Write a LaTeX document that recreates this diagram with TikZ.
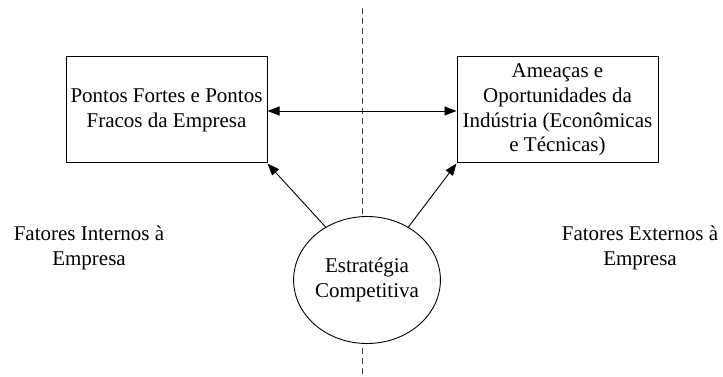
\documentclass[tikz,border=0pt]{standalone}
\usepackage{fontspec}
\setmainfont{Liberation Serif}
\usetikzlibrary{arrows.meta,shapes.geometric}
\begin{document}
\begin{tikzpicture}[x=1pt,y=-1pt,
  txt/.style={font=\fontsize{21}{24.8}\selectfont, align=center, inner sep=0pt},
  boxnode/.style={draw, line width=1pt, minimum width=201pt, minimum height=106pt, txt},
  arr/.style={line width=0.9pt, -{Triangle[length=12pt,width=9pt]}},
  darr/.style={line width=0.9pt, {Triangle[length=12pt,width=9pt]}-{Triangle[length=12pt,width=9pt]}}]
\useasboundingbox (0,0) rectangle (723,377);
\coordinate (dtop) at (362,8);
\coordinate (dbot) at (362,377);
\draw[line width=0.9pt, dash pattern=on 6pt off 4pt, black!75] (dtop) -- (dbot);
\node[boxnode] (int) at (166.5,110) {Pontos Fortes e Pontos\\Fracos da Empresa};
\node[boxnode] (ext) at (557.5,110) {Amea\c{c}as e\\Oportunidades da\\Ind\'ustria (Econ\^omicas\\e T\'ecnicas)};
\node[draw, line width=0.9pt, ellipse, fill=white, minimum width=138pt, minimum height=127pt, txt] (est) at (367,280) {Estrat\'egia\\Competitiva};
\node[txt] (fi) at (89,248) {Fatores Internos \`a\\Empresa};
\node[txt] (fe) at (640,248) {Fatores Externos \`a\\Empresa};
\draw[darr] (int.east |- 0,111) -- (ext.west |- 0,111);
\draw[arr] (est.128) -- (int.south east);
\draw[arr] (est.52) -- (ext.south west);
\end{tikzpicture}
\end{document}
